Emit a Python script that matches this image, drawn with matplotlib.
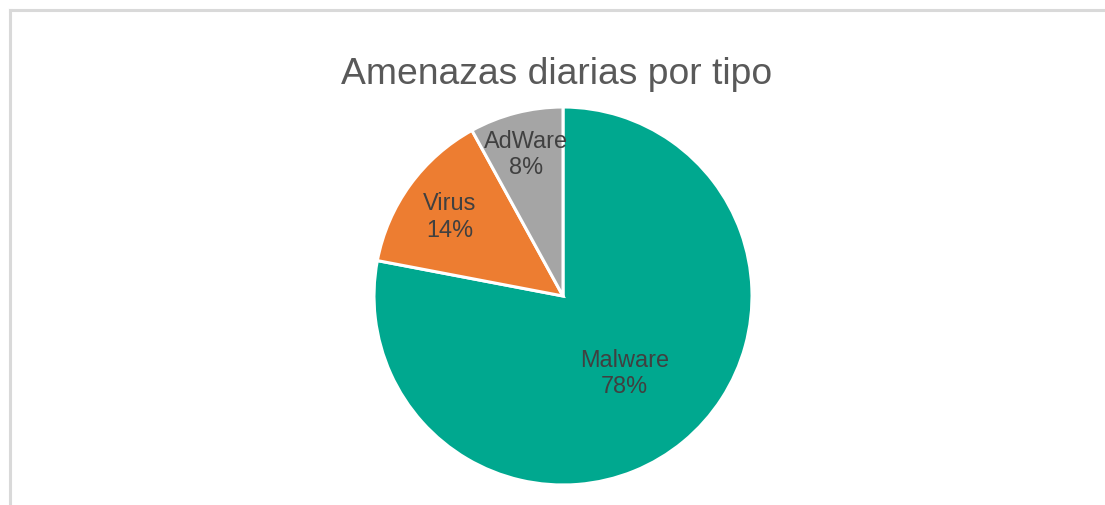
import matplotlib
matplotlib.use("Agg")
import matplotlib.pyplot as plt
import numpy as np

categories = ["Malware", "Virus", "AdWare"]
values = [78, 14, 8]
colors = ["#00A88F", "#ED7D31", "#A5A5A5"]
label_dist = [0.51, 0.74, 0.79]

plt.rcParams['font.family'] = ['Liberation Sans', 'DejaVu Sans']

W, H = 1105, 506
fig = plt.figure(figsize=(W / 100, H / 100), dpi=100)
fig.patch.set_facecolor("white")

# border lines (top and left)
fig.add_artist(plt.Line2D([9.5 / W, 1], [1 - 10.5 / H, 1 - 10.5 / H], color="#D9D9D9", lw=2.2, transform=fig.transFigure))
fig.add_artist(plt.Line2D([9.5 / W, 9.5 / W], [0, 1 - 10.5 / H], color="#D9D9D9", lw=2.2, transform=fig.transFigure))

cx, cy, r = 563, 297, 189
ax = fig.add_axes([(cx - r) / W, (H - cy - r) / H, 2 * r / W, 2 * r / H])
wedges, _ = ax.pie(values, colors=colors, startangle=90, counterclock=False,
                   radius=1.0, wedgeprops=dict(edgecolor="white", linewidth=2.2))
ax.set_xlim(-1, 1)
ax.set_ylim(-1, 1)
ax.set_aspect("equal")
ax.axis("off")

total = sum(values)
for w, cat, v, d in zip(wedges, categories, values, label_dist):
    ang = np.deg2rad((w.theta1 + w.theta2) / 2)
    ax.text(d * np.cos(ang), d * np.sin(ang) - 0.012, f"{cat}\n{round(100 * v / total)}%",
            ha="center", va="center", fontsize=16.9, color="#404040",
            linespacing=1.18, multialignment="center")

fig.text(557 / W, 1 - 84 / H, "Amenazas diarias por tipo", ha="center", va="baseline",
         fontsize=26.8, color="#595959")

fig.savefig("out.png", dpi=100, facecolor="white")
